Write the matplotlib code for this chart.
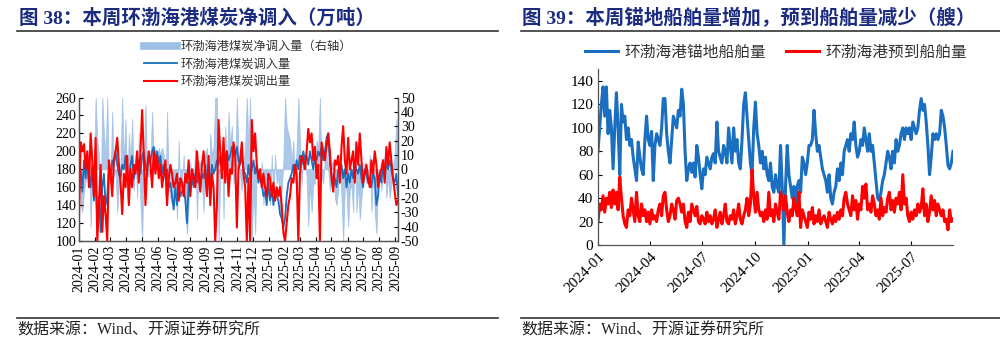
import matplotlib
matplotlib.use('Agg')
import matplotlib.pyplot as plt
import matplotlib.dates as mdates
from matplotlib.lines import Line2D
import pandas as pd

plt.rcParams['font.family'] = ['Liberation Serif', 'Noto Sans CJK SC']
plt.rcParams['axes.unicode_minus'] = False

# ---------------- data ----------------
# left chart: Bohai-rim port coal inflow / outflow (万吨), net (right axis)
left_start, left_end = '2024-01-01', '2025-09-06'
inflow = [170, 180, 155, 190, 170, 195, 175, 160, 185, 145, 175, 120, 150, 110, 160, 175, 140, 150, 180, 170,
          190, 185, 200, 185, 175, 170, 185, 180, 195, 175, 165, 185, 195, 170, 185, 180, 190, 175, 195, 200,
          185, 175, 195, 190, 200, 205, 190, 200, 185, 195, 175, 185, 170, 180, 160, 165, 150, 135, 160, 140,
          165, 150, 155, 160, 145, 120, 165, 155, 170, 160, 175, 165, 180, 160, 175, 170, 185, 165, 175, 165,
          185, 175, 180, 190, 185, 195, 190, 180, 195, 200, 190, 195, 205, 200, 195, 205, 190, 185, 195, 180,
          175, 165, 185, 170, 180, 190, 175, 185, 165, 170, 165, 150, 155, 140, 165, 145, 160, 140, 155, 150,
          145, 130, 125, 115, 125, 150, 165, 170, 175, 185, 175, 190, 180, 195, 185, 200, 190, 195, 185, 200,
          190, 180, 195, 190, 200, 195, 205, 190, 200, 215, 220, 185, 175, 160, 170, 160, 180, 175, 185, 170,
          180, 160, 175, 165, 180, 170, 185, 180, 175, 185, 170, 160, 180, 175, 165, 170, 160, 175, 170, 140,
          150, 175, 165, 190, 175, 185, 180, 190, 180, 170, 165, 175, 150]
outflow = [130, 210, 200, 208, 180, 200, 160, 220, 190, 150, 215, 100, 140, 185, 110, 150, 130, 100, 190, 175,
           150, 190, 200, 215, 185, 165, 130, 175, 160, 195, 140, 180, 160, 185, 175, 200, 165, 200, 246, 195,
           140, 180, 200, 185, 160, 200, 175, 195, 170, 185, 160, 175, 190, 140, 170, 185, 175, 160, 165, 175,
           145, 170, 165, 150, 175, 165, 190, 150, 180, 170, 160, 200, 175, 155, 185, 200, 175, 150, 195, 140,
           175, 160, 100, 140, 235, 200, 170, 215, 165, 200, 150, 180, 175, 210, 195, 115, 180, 190, 210, 175,
           160, 100, 170, 100, 235, 200, 220, 185, 170, 180, 160, 175, 160, 150, 175, 170, 150, 165, 145, 160,
           150, 160, 140, 110, 100, 120, 140, 150, 170, 165, 185, 175, 100, 175, 195, 190, 180, 200, 225, 210,
           220, 190, 205, 170, 185, 100, 210, 200, 190, 205, 220, 200, 170, 155, 190, 185, 195, 165, 205, 228,
           190, 175, 215, 180, 190, 200, 165, 210, 185, 220, 190, 165, 175, 185, 170, 160, 190, 175, 200, 185,
           160, 175, 180, 190, 165, 205, 185, 210, 190, 170, 155, 140, 145]
net = [35, -25, -30, -15, -8, -5, 15, -40, -5, -5, 50, 20, 10, -30, 50, 25, 10, 50, -10, -5,
       40, -5, 0, -30, -10, 5, 50, 5, 35, -20, 25, 5, 35, -15, 10, -20, 25, -25, -50, 5,
       45, -5, -5, 5, 40, 5, 15, 5, 15, 10, 15, 10, -20, 40, -10, -20, -25, -25, -5, -35,
       20, -20, -10, 10, -30, -45, -25, 5, -10, -10, 15, -35, 5, 5, -10, -30, 10, 15, -20, 25,
       10, 15, 50, 50, -50, -5, 20, -35, 30, 0, 40, 15, 30, -10, 0, 50, 10, -5, -15, 5,
       15, 50, 15, 50, -50, -10, -45, 0, -5, -10, 5, -25, -5, -10, -10, -25, 10, -25, 10, -10,
       -5, -30, -15, 5, 50, 30, 25, 20, 5, 20, -10, 15, 50, 20, -10, 10, 10, -5, -40, -10,
       -30, -10, -10, 20, 15, 50, -5, -10, 10, 10, 0, -15, 5, 5, -20, -25, -15, 10, -20, -50,
       -10, -15, -40, -15, -10, -30, 20, -30, -10, -35, -20, -5, 5, -10, -5, 10, -30, 0, -30, -45,
       -10, 0, -15, 0, 10, -20, -5, -20, -10, 0, 10, 35, 5]

# right chart: ships at anchorage / expected arrivals (艘)
right_start, right_end = '2024-01-01', '2025-09-12'
anchored = [80, 100, 120, 135, 110, 135, 95, 115, 100, 65, 100, 130, 100, 60, 120, 105, 110, 90, 100, 85,
            90, 75, 65, 55, 88, 75, 65, 60, 90, 110, 90, 85, 97, 55, 85, 95, 90, 85, 100, 125,
            125, 95, 80, 70, 90, 110, 105, 100, 115, 110, 133, 120, 80, 55, 65, 70, 62, 70, 58, 85,
            75, 60, 48, 65, 60, 75, 70, 65, 75, 78, 70, 105, 80, 75, 70, 85, 80, 70, 100, 85,
            70, 100, 80, 90, 70, 65, 90, 120, 130, 110, 90, 70, 60, 100, 122, 95, 85, 70, 80, 65,
            75, 60, 55, 70, 50, 45, 60, 50, 45, 85, 50, 0, 50, 85, 60, 50, 40, 50, 35, 50,
            55, 45, 75, 70, 60, 70, 85, 85, 90, 115, 95, 80, 85, 75, 65, 60, 55, 45, 60, 40,
            35, 45, 50, 65, 55, 70, 60, 80, 85, 90, 80, 95, 90, 105, 85, 75, 80, 90, 85, 100,
            90, 80, 95, 80, 85, 70, 55, 40, 38, 45, 55, 60, 70, 80, 75, 65, 80, 70, 90, 80,
            85, 95, 100, 90, 100, 95, 100, 90, 105, 100, 95, 100, 115, 125, 115, 120, 105, 85, 60, 75,
            95, 90, 95, 90, 95, 115, 110, 100, 85, 68, 65, 70, 80]
expected = [20, 35, 30, 42, 28, 40, 35, 45, 32, 47, 35, 45, 30, 58, 40, 25, 18, 15, 30, 25,
            40, 30, 20, 45, 25, 20, 35, 25, 30, 20, 28, 18, 30, 22, 25, 20, 30, 35, 25, 42,
            45, 30, 20, 25, 35, 30, 22, 38, 40, 35, 28, 35, 20, 15, 28, 20, 35, 30, 25, 33,
            20, 18, 25, 22, 18, 28, 20, 25, 18, 22, 30, 15, 22, 28, 18, 25, 35, 20, 18, 25,
            22, 30, 18, 25, 35, 22, 18, 25, 30, 40, 25, 35, 64, 42, 28, 45, 30, 25, 28, 20,
            30, 22, 45, 25, 30, 20, 35, 28, 22, 45, 38, 30, 42, 28, 20, 30, 25, 40, 32, 25,
            45, 15, 30, 25, 20, 15, 28, 22, 32, 18, 25, 20, 30, 18, 22, 25, 20, 15, 28, 22,
            18, 25, 20, 28, 22, 30, 25, 40, 45, 35, 30, 25, 42, 30, 38, 22, 35, 30, 50, 40,
            52, 30, 35, 28, 42, 35, 25, 30, 22, 40, 25, 32, 28, 40, 45, 30, 38, 28, 40, 35,
            45, 30, 60, 35, 40, 25, 20, 28, 22, 30, 25, 35, 28, 32, 48, 25, 35, 20, 28, 42,
            30, 38, 25, 35, 30, 25, 30, 20, 22, 13, 30, 20, 22]

title_left = '图 38：本周环渤海港煤炭净调入（万吨）'
title_right = '图 39：本周锚地船舶量增加，预到船舶量减少（艘）'
source = '数据来源：Wind、开源证券研究所'

# ---------------- styling ----------------
navy = '#1B2C80'
blue = '#1A6FC0'
red = '#FF0000'
light_blue = '#9DBFE6'
spine_col = '#555555'

fig = plt.figure(figsize=(10, 3.43), dpi=100)

# titles, rules and source notes
fig.text(0.019, 0.948, title_left, fontsize=14, fontweight='bold', color=navy, va='center')
fig.text(0.522, 0.948, title_right, fontsize=14, fontweight='bold', color=navy, va='center')
for x0, x1 in [(0.017, 0.498), (0.521, 1.0)]:
    fig.add_artist(Line2D([x0, x1], [0.909, 0.909], color='#333333', lw=1.2))
    fig.add_artist(Line2D([x0, x1], [0.073, 0.073], color='#333333', lw=1.2))
fig.text(0.017, 0.037, source, fontsize=11.5, color='#222222', va='center')
fig.text(0.521, 0.037, source, fontsize=11.5, color='#222222', va='center')

# ---------------- left chart ----------------
d_left = pd.date_range(left_start, left_end, periods=len(inflow))
d_net = pd.date_range(left_start, left_end, periods=len(net))
ax1 = fig.add_axes([0.079, 0.2974, 0.319, 0.4183])
ax2 = ax1.twinx()
ax2.fill_between(d_net, 0, net, color=light_blue, lw=0.6, alpha=0.85)
ax1.plot(d_left, inflow, color=blue, lw=1.3)
ax1.plot(pd.date_range(left_start, left_end, periods=len(outflow)), outflow, color=red, lw=1.5)
ax1.set_zorder(ax2.get_zorder() + 1)
ax1.patch.set_visible(False)

ax1.set_ylim(100, 260)
ax1.set_yticks(range(100, 261, 20))
ax2.set_ylim(-50, 50)
ax2.set_yticks(range(-50, 51, 10))
ax1.set_xlim(pd.Timestamp(left_start), pd.Timestamp(left_end))
ax1.xaxis.set_major_locator(mdates.MonthLocator())
ax1.xaxis.set_major_formatter(mdates.DateFormatter('%Y-%m'))
ax1.tick_params(axis='x', rotation=90, labelsize=10, direction='in', length=3, pad=3)
ax1.tick_params(axis='y', labelsize=10, direction='in', length=3, pad=2)
ax2.tick_params(axis='y', labelsize=10, direction='in', length=3, pad=2)
for ax in (ax1, ax2):
    ax.spines['top'].set_visible(False)
    for s in ('left', 'right', 'bottom'):
        ax.spines[s].set_color(spine_col)
        ax.spines[s].set_linewidth(0.9)

handles_l = [Line2D([], [], color=light_blue, lw=5.5),
             Line2D([], [], color=blue, lw=1.3),
             Line2D([], [], color=red, lw=1.5)]
labels_l = ['环渤海港煤炭净调入量（右轴）', '环渤海港煤炭调入量', '环渤海港煤炭调出量']
fig.legend(handles_l, labels_l, loc='upper left', bbox_to_anchor=(0.138, 0.898), frameon=False,
           fontsize=8.8, handlelength=2.7, handletextpad=0.3, labelspacing=0.45, borderpad=0,
           labelcolor='#333333')

# ---------------- right chart ----------------
ax3 = fig.add_axes([0.598, 0.2857, 0.355, 0.5123])
ax3.plot(pd.date_range(right_start, right_end, periods=len(anchored)), anchored, color=blue, lw=2.2)
ax3.plot(pd.date_range(right_start, right_end, periods=len(expected)), expected, color=red, lw=2.2)
ax3.set_ylim(0, 150)
ax3.set_yticks(range(0, 141, 20))
ax3.set_xlim(pd.Timestamp(right_start), pd.Timestamp(right_end))
ax3.xaxis.set_major_locator(mdates.MonthLocator(bymonth=[1, 4, 7, 10]))
ax3.xaxis.set_major_formatter(mdates.DateFormatter('%Y-%m'))
ax3.tick_params(axis='both', labelsize=11, direction='in', length=3)
for lab in ax3.get_xticklabels():
    lab.set_rotation(45)
    lab.set_ha('right')
    lab.set_rotation_mode('anchor')
ax3.spines['top'].set_visible(False)
ax3.spines['right'].set_visible(False)
for s in ('left', 'bottom'):
    ax3.spines[s].set_color(spine_col)
    ax3.spines[s].set_linewidth(0.9)

handles_r = [Line2D([], [], color=blue, lw=2.2), Line2D([], [], color=red, lw=2.2)]
labels_r = ['环渤海港锚地船舶量', '环渤海港预到船舶量']
fig.legend(handles_r, labels_r, loc='upper left', bbox_to_anchor=(0.577, 0.893), frameon=False, ncol=2,
           fontsize=11.3, handlelength=2.1, handletextpad=0.4, columnspacing=1.3, borderpad=0,
           labelcolor='#333333')

fig.savefig('out.png', dpi=100)
